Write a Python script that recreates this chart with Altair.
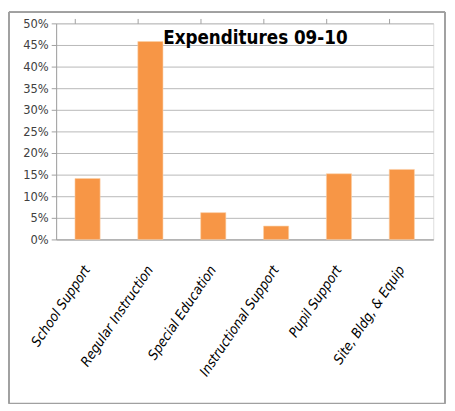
import altair as alt
import pandas as pd

categories = ["School Support", "Regular Instruction", "Special Education",
              "Instructional Support", "Pupil Support", "Site, Bldg,  & Equip"]
values = [0.141, 0.458, 0.062, 0.031, 0.152, 0.162]
title_text = ["Expenditures 09-10"]

df = pd.DataFrame({"category": categories, "value": values})

FONT = "DejaVu Sans Condensed, Liberation Sans Narrow, Roboto, sans-serif"
W, H = 384, 220

xscale = alt.Scale(paddingInner=0.6, paddingOuter=0.3)

bars = alt.Chart(df).mark_bar(color="#F79646", stroke="#FBD0A8", strokeWidth=0.6).encode(
    x=alt.X("category:N", sort=categories, scale=xscale,
            axis=alt.Axis(title=None, labelAngle=-56, labelAlign="right", labelBaseline="middle",
                          labelFont=FONT, labelFontStyle="oblique", labelFontSize=14,
                          labelColor="#000000", labelPadding=28, ticks=False,
                          domainColor="#A0A0A0", labelLimit=200)),
    y=alt.Y("value:Q", scale=alt.Scale(domain=[0, 0.5]),
            axis=alt.Axis(title=None, format=".0%", values=[i * 0.05 for i in range(11)],
                          labelFont=FONT, labelFontSize=13, labelColor="#404040",
                          grid=True, gridColor="#B8B8B8", tickColor="#A0A0A0", tickSize=5,
                          domainColor="#A0A0A0", labelPadding=3)),
)

ticks = alt.Chart(df).mark_point(opacity=0).encode(
    x=alt.X("category:N", sort=categories, scale=xscale,
            axis=alt.Axis(title=None, labels=False, ticks=True, bandPosition=0,
                          tickColor="#A0A0A0", tickSize=5, domain=False, grid=False)),
)

title = alt.Chart(pd.DataFrame({"t": title_text})).mark_text(
    font=FONT, fontSize=19, fontWeight="bold", color="#000000",
    align="left", baseline="top", clip=False
).encode(text="t:N", x=alt.value(109), y=alt.value(6))

frame = alt.Chart(df).mark_rect(fill=None, stroke="#A0A0A0", strokeWidth=1, clip=False).encode(
    x=alt.value(-48), x2=alt.value(396), y=alt.value(-11.5), y2=alt.value(387)
)

chart = alt.layer(bars, ticks, title, frame).resolve_axis(x="independent").properties(
    width=W, height=H,
    autosize=alt.AutoSizeParams(type="none"),
    padding={"left": 49, "top": 12, "right": 14, "bottom": 170},
).configure_view(stroke=None).configure(background="white")

chart.save("out.html", embed_options={"renderer": "svg", "actions": False})
